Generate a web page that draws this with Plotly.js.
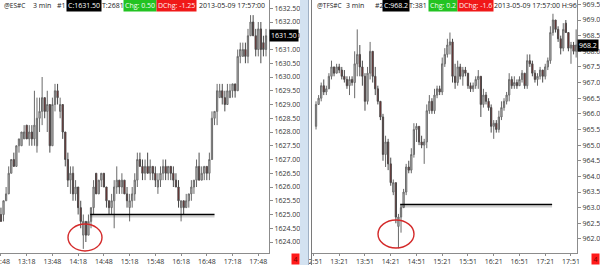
<!DOCTYPE html>
<html><head><meta charset="utf-8">
<script src="https://cdn.plot.ly/plotly-3.0.1.min.js"></script>
<style>html,body{margin:0;padding:0;background:#fff;overflow:hidden}#c{width:600px;height:265px}</style>
</head><body><div id="c"></div><script>
// ---------- @ES#C 3 min (bars from 12:48) ----------
const esStart = '12:48';
const esOpen  = [1625.0,1625.0,1625.5,1625.75,1626.5,1627.0,1626.75,1627.5,1627.5,1627.75,1628.25,1627.75,1628.0,1627.75,1627.5,1628.5,1628.75,1629.25,1628.75,1629.0,1627.5,1629.0,1629.5,1628.75,1629.0,1628.0,1627.0,1626.25,1626.5,1625.75,1626.0,1625.25,1624.25,1624.75,1624.25,1624.75,1625.25,1626.5,1625.75,1626.25,1626.5,1626.0,1625.5,1625.25,1625.5,1626.0,1626.25,1626.0,1626.25,1625.75,1625.25,1625.5,1625.75,1626.25,1627.0,1626.75,1626.5,1626.75,1626.5,1626.75,1626.5,1626.0,1626.25,1626.5,1626.75,1626.5,1626.75,1626.5,1626.25,1626.0,1625.25,1625.5,1625.25,1625.5,1625.75,1626.0,1626.25,1626.75,1626.25,1626.5,1626.75,1626.5,1627.0,1628.5,1628.75,1629.25,1629.5,1629.25,1629.0,1629.25,1629.5,1629.75,1629.5,1630.75,1630.75,1631.0,1630.75,1631.5,1632.0,1631.5,1631.0,1631.75,1631.25,1631.0];
const esHigh  = [1625.25,1625.5,1626.0,1626.75,1627.0,1627.25,1627.5,1627.75,1628.0,1628.25,1628.25,1628.25,1628.25,1629.5,1629.25,1629.25,1630.0,1629.25,1629.5,1629.0,1629.25,1629.75,1629.75,1629.25,1629.0,1628.0,1627.25,1626.75,1626.75,1626.25,1626.0,1625.5,1625.0,1624.75,1625.0,1625.25,1626.25,1626.5,1626.25,1626.5,1626.5,1626.0,1625.5,1625.75,1626.25,1626.75,1626.25,1626.5,1626.25,1626.0,1625.75,1626.0,1626.5,1627.25,1627.25,1627.0,1627.0,1627.25,1627.0,1626.75,1626.75,1626.5,1626.75,1627.0,1627.0,1626.75,1626.75,1626.75,1626.5,1626.25,1625.5,1625.5,1625.75,1625.75,1626.25,1626.25,1627.0,1627.25,1626.75,1626.75,1626.75,1627.25,1628.75,1628.75,1629.75,1629.75,1629.75,1629.5,1629.75,1629.75,1629.75,1629.75,1631.0,1631.25,1631.25,1631.25,1631.75,1632.25,1632.25,1631.75,1632.0,1632.0,1631.5,1631.75];
const esLow   = [1624.75,1624.75,1625.5,1625.75,1626.5,1626.75,1626.75,1627.25,1627.5,1627.75,1627.75,1627.5,1627.5,1627.5,1627.25,1628.0,1628.25,1628.5,1628.0,1627.25,1627.5,1628.75,1629.0,1628.5,1627.75,1626.75,1626.0,1625.75,1625.5,1625.5,1625.0,1624.5,1623.75,1624.0,1624.25,1624.5,1625.0,1625.75,1625.75,1626.0,1626.0,1625.25,1625.0,1625.0,1624.5,1625.75,1625.75,1625.75,1625.75,1625.25,1624.75,1625.25,1625.5,1626.0,1626.75,1626.25,1626.25,1626.5,1626.25,1626.25,1626.0,1625.75,1626.0,1626.25,1626.25,1626.25,1626.25,1626.0,1626.0,1625.25,1624.75,1625.0,1625.25,1625.25,1625.5,1625.75,1626.0,1626.25,1626.25,1626.25,1626.25,1626.25,1627.0,1628.25,1628.25,1629.25,1629.0,1628.75,1629.0,1629.25,1629.25,1629.25,1629.5,1630.5,1630.75,1630.5,1630.5,1631.5,1631.5,1630.75,1630.75,1630.5,1630.75,1630.75];
const esClose = [1624.75,1625.5,1625.75,1626.5,1627.0,1626.75,1627.5,1627.75,1628.0,1628.0,1627.75,1628.0,1627.75,1628.25,1628.5,1628.75,1629.25,1628.75,1629.0,1627.5,1629.0,1629.5,1629.25,1629.0,1628.0,1627.0,1626.25,1626.5,1625.75,1626.0,1625.25,1624.75,1624.75,1624.25,1624.75,1625.25,1626.0,1625.75,1626.25,1626.5,1626.0,1625.5,1625.25,1625.5,1626.0,1626.25,1626.0,1626.25,1625.75,1625.5,1625.5,1625.75,1626.25,1627.0,1626.75,1626.5,1626.75,1626.5,1626.75,1626.5,1626.25,1626.25,1626.5,1626.75,1626.5,1626.75,1626.5,1626.25,1626.0,1625.5,1625.5,1625.25,1625.5,1625.75,1626.0,1626.25,1626.75,1626.25,1626.5,1626.75,1626.5,1627.0,1628.5,1628.75,1629.5,1629.5,1629.25,1629.0,1629.5,1629.5,1629.75,1629.5,1630.75,1631.0,1631.0,1630.75,1631.5,1632.0,1631.5,1631.0,1631.75,1631.0,1631.0,1631.5];
const esLevel = {price: 1625.0, from: '14:32', to: '16:57'};
const esAxisTicks = {first: '12:48', stepMin: 30};

// ---------- @TFS#C 3 min (bars from 12:54) ----------
const tfStart = '12:54';
const tfOpen  = [965.6,966.3,966.5,966.9,966.7,966.8,967.2,967.5,967.3,967.5,967.4,967.2,967.1,966.9,967.1,967.0,967.6,967.9,967.5,967.2,966.4,967.3,968.0,967.2,966.8,966.4,965.9,964.7,965.1,964.4,963.5,963.8,962.4,962.7,963.0,963.5,964.3,964.2,964.7,965.5,965.6,965.1,965.0,965.1,966.1,966.4,966.1,966.6,966.8,966.7,967.6,967.9,968.2,968.3,967.2,967.0,967.5,967.2,967.4,967.3,966.9,966.8,966.9,967.1,967.2,966.3,966.6,966.4,966.2,965.6,965.7,965.5,965.9,966.2,966.4,966.6,967.1,966.9,967.0,966.9,967.1,967.3,966.9,967.7,967.6,967.3,967.1,967.2,967.4,967.2,967.5,967.7,968.6,969.0,968.7,968.4,968.1,968.9,968.6,968.1,968.2,968.0];
const tfHigh  = [966.4,966.6,967.0,967.1,966.9,967.3,967.7,967.5,967.6,967.6,967.5,967.4,967.2,967.2,967.2,968.0,968.7,968.2,967.7,967.3,967.5,968.3,968.0,967.5,966.9,966.4,966.0,965.3,965.2,964.6,963.9,963.8,962.8,963.1,963.6,964.4,964.5,964.9,965.7,965.7,965.6,965.3,965.2,966.3,966.6,966.5,966.8,966.9,966.9,967.8,968.1,968.4,968.6,968.4,967.6,967.7,967.6,967.5,967.5,967.3,967.0,967.0,967.2,967.4,967.2,966.8,966.7,966.5,966.3,965.8,965.8,966.1,966.4,966.5,966.7,967.3,967.2,967.2,967.1,967.2,967.4,967.3,967.9,967.9,967.7,967.4,967.3,967.5,967.4,967.6,967.8,968.8,969.2,969.0,968.8,968.5,968.9,969.0,968.6,968.3,968.3,968.7];
const tfLow   = [965.5,966.3,966.4,966.6,966.6,966.8,967.1,967.2,967.3,967.3,967.1,967.0,966.8,966.6,966.9,966.5,967.2,967.2,966.9,966.1,966.3,967.1,967.0,966.6,966.3,965.8,964.5,964.3,964.2,963.7,963.4,962.5,961.7,962.2,963.0,963.4,964.1,964.1,964.6,965.1,965.0,964.9,964.4,964.9,966.0,966.0,966.0,966.5,966.6,966.6,967.5,967.8,967.9,967.0,966.8,966.9,967.1,966.9,967.2,966.8,966.7,966.7,966.8,966.8,965.9,966.2,966.3,966.1,965.4,965.2,965.4,965.4,965.8,966.1,966.3,966.4,966.8,966.8,966.8,966.9,967.0,966.8,966.8,967.5,967.2,967.0,966.9,967.1,967.0,967.1,967.4,967.6,968.5,968.6,968.3,967.9,968.0,968.6,968.0,967.6,967.9,967.8];
const tfClose = [966.3,966.5,966.9,966.7,966.8,967.2,967.5,967.3,967.5,967.4,967.2,967.1,966.9,967.1,967.0,967.6,967.9,967.5,967.2,966.4,967.3,968.0,967.2,966.8,966.4,965.9,964.7,965.1,964.4,963.8,963.8,962.7,962.7,963.0,963.5,964.3,964.2,964.7,965.5,965.6,965.1,965.0,965.1,966.1,966.4,966.1,966.6,966.8,966.7,967.6,967.9,968.2,968.3,967.2,967.0,967.5,967.2,967.4,967.3,966.9,966.8,966.9,967.1,967.2,966.3,966.6,966.4,966.2,965.6,965.7,965.5,965.9,966.2,966.4,966.6,967.1,966.9,967.0,966.9,967.1,967.3,966.9,967.7,967.6,967.3,967.1,967.2,967.4,967.2,967.5,967.7,968.6,969.0,968.7,968.4,968.1,968.7,968.6,968.1,968.2,968.0,968.2];
const tfLevel = {price: 963.1, from: '14:32', to: '17:29'};
const tfAxisTicks = {first: '12:51', stepMin: 30};

const DAY = '2013-05-09 ';
function pad(n){return (n<10?'0':'')+n;}
function barTimes(start, n){
  const p = start.split(':').map(Number);
  const base = p[0]*60+p[1];
  return Array.from({length:n},(_,i)=>{const t=base+3*i;return DAY+pad(Math.floor(t/60))+':'+pad(t%60)+':00';});
}
const esTimes = barTimes(esStart, esClose.length);
const tfTimes = barTimes(tfStart, tfClose.length);

const FONT = 'Open Sans, Noto Sans, sans-serif';
const W = 600, H = 265;
const px = v => v/W, py = v => 1 - v/H;

function candle(x, o, h, l, c, xa, ya){
  return {type:'candlestick', x:x, open:o, high:h, low:l, close:c, xaxis:xa, yaxis:ya,
    whiskerwidth:0, hoverinfo:'skip', showlegend:false,
    increasing:{line:{color:'#6a6a6a', width:1}, fillcolor:'#cacaca'},
    decreasing:{line:{color:'#4a4a4a', width:1}, fillcolor:'#8b1a1a'}};
}

const data = [
  candle(esTimes, esOpen, esHigh, esLow, esClose, 'x', 'y'),
  candle(tfTimes, tfOpen, tfHigh, tfLow, tfClose, 'x2', 'y2')
];

const yDom = [1-253/H, 1];
const tickFont = {family:FONT, size:7, color:'#333'};
function xAx(dom, range, first, anchor){
  return {domain:dom, anchor:anchor, type:'date', range:range, tick0:DAY+first+':00', dtick:30*60000,
    tickformat:'%H:%M', showline:true, linecolor:'#8c8c8c', linewidth:1, ticks:'outside', ticklen:2, tickcolor:'#8c8c8c',
    tickfont:tickFont, ticklabeloverflow:'allow', showgrid:false, zeroline:false, fixedrange:true, rangeslider:{visible:false}};
}
function yAx(range, fmt, anchor){
  return {domain:yDom, anchor:anchor, side:'right', range:range, dtick:0.5, tick0:0, tickformat:fmt,
    showline:true, linecolor:'#8c8c8c', linewidth:1, ticks:'outside', ticklen:3, tickcolor:'#8c8c8c',
    tickfont:tickFont, ticklabeloverflow:'allow', showgrid:false, zeroline:false, fixedrange:true};
}

function hdr(x, text, bg, color, size){
  const a = {xref:'paper', yref:'paper', x:px(x), y:py(5.5), xanchor:'left', yanchor:'middle', text:text,
    showarrow:false, font:{family:FONT, size:size||7, color:color||'#222'}, borderpad:1};
  if (bg) a.bgcolor = bg;
  return a;
}

const lastES = esClose[esClose.length-1], lastTF = tfClose[tfClose.length-1];
const prevES = esClose[esClose.length-2], prevTF = tfClose[tfClose.length-2];

const annotations = [
  hdr(2, '@ES#C', null, null, 6.5), hdr(31, '3 min'), hdr(55, '#1'),
  hdr(66, 'C:'+lastES.toFixed(2), '#000', '#fff'),
  hdr(100, 'T:2681'),
  hdr(123, 'Chg: '+(lastES-prevES).toFixed(2), '#22c322', '#f4fff4'),
  hdr(156, 'DChg: -1.25', '#f01818', '#fff0f0'),
  hdr(197, '2013-05-09 17:57:00'),
  hdr(315, '@TFS#C', null, null, 6.5), hdr(344, '3 min'), hdr(373, '#2'),
  hdr(382, 'C:'+lastTF.toFixed(1), '#000', '#fff'),
  hdr(407, 'T:381'),
  hdr(428, 'Chg: '+(lastTF-prevTF).toFixed(1), '#22c322', '#f4fff4'),
  hdr(457, 'DChg: -1.6', '#f01818', '#fff0f0'),
  hdr(492, '2013-05-09 17:57:00 H:96'),
  {xref:'paper', yref:'y', x:px(269), y:lastES, xanchor:'left', yanchor:'middle', text:lastES.toFixed(2),
    showarrow:false, bgcolor:'#000', font:{family:FONT, size:7, color:'#fff'}, borderpad:1},
  {xref:'paper', yref:'y2', x:px(577), y:lastTF, xanchor:'left', yanchor:'middle', text:lastTF.toFixed(1),
    showarrow:false, bgcolor:'#000', font:{family:FONT, size:7, color:'#fff'}, borderpad:1},
  {xref:'paper', yref:'paper', x:px(300), y:0, xanchor:'right', yanchor:'bottom', text:'4', width:7, height:10,
    showarrow:false, bgcolor:'#ff1a1a', font:{family:FONT, size:7, color:'#700'}, borderpad:0},
  {xref:'paper', yref:'paper', x:1, y:0, xanchor:'right', yanchor:'bottom', text:'4', width:7, height:10,
    showarrow:false, bgcolor:'#ff1a1a', font:{family:FONT, size:7, color:'#700'}, borderpad:0}
];

const shapes = [
  // window separator
  {type:'rect', xref:'paper', yref:'paper', x0:px(300), x1:px(308), y0:0, y1:1, fillcolor:'#d3e2f1', line:{width:0}, layer:'above'},
  {type:'line', xref:'paper', yref:'paper', x0:px(308.5), x1:px(308.5), y0:0, y1:1, line:{color:'#9fb0c4', width:1}, layer:'above'},
  {type:'line', xref:'paper', yref:'paper', x0:px(311.5), x1:px(311.5), y0:0, y1:1, line:{color:'#7a7a7a', width:1}, layer:'above'},
  // support lines with shadow
  {type:'line', xref:'x', yref:'y', x0:DAY+esLevel.from, x1:DAY+esLevel.to, y0:esLevel.price-0.07, y1:esLevel.price-0.07, line:{color:'rgba(0,0,0,0.18)', width:2}},
  {type:'line', xref:'x', yref:'y', x0:DAY+esLevel.from, x1:DAY+esLevel.to, y0:esLevel.price, y1:esLevel.price, line:{color:'#000', width:1.6}},
  {type:'line', xref:'x2', yref:'y2', x0:DAY+tfLevel.from, x1:DAY+tfLevel.to, y0:tfLevel.price-0.06, y1:tfLevel.price-0.06, line:{color:'rgba(0,0,0,0.18)', width:2}},
  {type:'line', xref:'x2', yref:'y2', x0:DAY+tfLevel.from, x1:DAY+tfLevel.to, y0:tfLevel.price, y1:tfLevel.price, line:{color:'#000', width:1.6}},
  // circles around the lows
  {type:'circle', xref:'paper', yref:'paper', x0:px(68), x1:px(102), y0:py(251), y1:py(224), line:{color:'#d42a2a', width:1.4}},
  {type:'circle', xref:'paper', yref:'paper', x0:px(378), x1:px(414), y0:py(248), y1:py(220), line:{color:'#d42a2a', width:1.4}}
];

const layout = {
  width:W, height:H, margin:{l:0, r:0, t:0, b:0}, paper_bgcolor:'#fff', plot_bgcolor:'#fff',
  font:{family:FONT, size:7, color:'#333'}, showlegend:false, hovermode:false,
  xaxis: xAx([0, 269/W], [DAY+'12:46:53', DAY+'18:00:30'], esAxisTicks.first, 'y'),
  yaxis: yAx([1623.60, 1632.80], '.2f', 'x'),
  xaxis2: xAx([312/W, 577/W], [DAY+'12:49:18', DAY+'17:58:00'], tfAxisTicks.first, 'y2'),
  yaxis2: yAx([961.55, 969.64], '.1f', 'x2'),
  annotations: annotations, shapes: shapes
};

Plotly.newPlot('c', data, layout, {staticPlot:true, displayModeBar:false});
</script></body></html>
